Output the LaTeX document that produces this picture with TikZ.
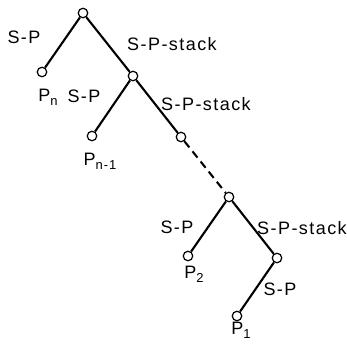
\documentclass[tikz,border=0pt]{standalone}
\usepackage{fontspec}
\setmainfont{Liberation Sans}
\newcommand{\Psub}[1]{P\raisebox{-0.4ex}{\fontsize{13}{13}\selectfont #1}}
\begin{document}
\begin{tikzpicture}[x=1pt,y=-1pt,
  vtx/.style={circle,draw,fill=white,line width=1.2pt,minimum size=9.5pt,inner sep=0pt},
  edge/.style={line width=2.1pt},
  lbl/.style={inner sep=0pt,font=\fontsize{18}{20}\selectfont\addfontfeature{LetterSpace=8}}]
\useasboundingbox (0,0) rectangle (347,349);
\node[vtx] (r)  at (83,13) {};
\node[vtx] (pn) at (42,72) {};
\node[vtx] (n2) at (133,76) {};
\node[vtx] (pm) at (92,136) {};
\node[vtx] (n3) at (181,137) {};
\node[vtx] (n4) at (229,197) {};
\node[vtx] (p2) at (188,256) {};
\node[vtx] (n5) at (277,258) {};
\node[vtx] (p1) at (237,316) {};
\draw[edge] (r) -- (pn);
\draw[edge] (r) -- (n2);
\draw[edge] (n2) -- (pm);
\draw[edge] (n2) -- (n3);
\draw[edge,dash pattern=on 8pt off 5pt] (n3) -- (n4);
\draw[edge] (n4) -- (p2);
\draw[edge] (n4) -- (n5);
\draw[edge] (n5) -- (p1);
\node[lbl] (l1) at (24,37) {S-P};
\node[lbl] (l2) at (172,44) {S-P-stack};
\node[lbl] (t1) at (48,97) {\Psub{n}};
\node[lbl] (l3) at (84,96) {S-P};
\node[lbl] (l4) at (206,104) {S-P-stack};
\node[lbl] (t2) at (100,161) {\Psub{n-1}};
\node[lbl] (l5) at (177,227) {S-P};
\node[lbl] (l6) at (302,228) {S-P-stack};
\node[lbl] (t3) at (194,274) {\Psub{2}};
\node[lbl] (l7) at (280,289) {S-P};
\node[lbl] (t4) at (241,330) {\Psub{1}};
\end{tikzpicture}
\end{document}
